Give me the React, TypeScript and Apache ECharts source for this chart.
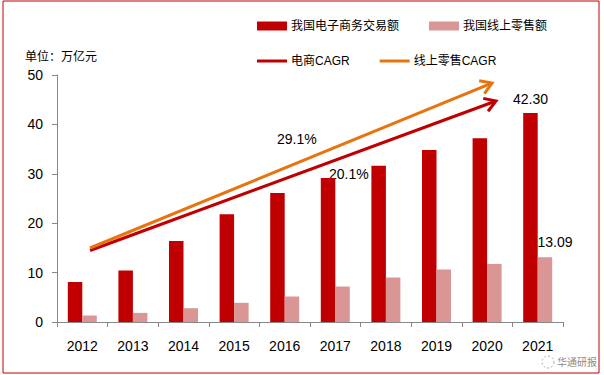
import React, { useEffect, useRef } from "react";
import * as echarts from "echarts";

const categories = ["2012", "2013", "2014", "2015", "2016", "2017", "2018", "2019", "2020", "2021"];
const ecommerce = [8.1, 10.4, 16.39, 21.79, 26.1, 29.16, 31.63, 34.81, 37.21, 42.3];
const onlineRetail = [1.31, 1.85, 2.79, 3.88, 5.16, 7.18, 9.01, 10.63, 11.76, 13.09];
const yTicks = { min: 0, max: 50, interval: 10 };
const cagrLabels = ["29.1%", "20.1%"];

const FONT = "'Liberation Sans', 'Noto Sans CJK SC', sans-serif";
const RED = "#C00000";
const PINK = "#D99694";
const ORANGE = "#E8740F";

function arrow(x1: number, y1: number, x2: number, y2: number, color: string) {
  const ang = Math.atan2(y2 - y1, x2 - x1);
  const len = 13;
  const spread = (32 * Math.PI) / 180;
  const p1 = [x2 - len * Math.cos(ang - spread), y2 - len * Math.sin(ang - spread)];
  const p2 = [x2 - len * Math.cos(ang + spread), y2 - len * Math.sin(ang + spread)];
  return [
    {
      type: "line",
      shape: { x1, y1, x2: x2 - 1.5 * Math.cos(ang), y2: y2 - 1.5 * Math.sin(ang) },
      style: { stroke: color, lineWidth: 3 },
    },
    {
      type: "polyline",
      shape: { points: [p1, [x2, y2], p2] },
      style: { stroke: color, lineWidth: 3, fill: null, lineJoin: "miter" },
    },
  ];
}

export default function App() {
  const ref = useRef<HTMLDivElement>(null);
  useEffect(() => {
    document.body.style.margin = "0";
    const chart = echarts.init(ref.current!, null, { renderer: "svg" });
    const last = categories.length - 1;
    chart.setOption({
      animation: false,
      backgroundColor: "#fff",
      textStyle: { fontFamily: FONT },
      grid: { left: 57, right: 41, top: 75, bottom: 53, containLabel: false },
      legend: [
        {
          data: ["我国电子商务交易额", "我国线上零售额"],
          left: 252,
          top: 15,
          itemWidth: 30,
          itemHeight: 9,
          itemGap: 30,
          icon: "rect",
          textStyle: { fontSize: 12, color: "#000", width: 108, padding: [0, 0, 0, -1] },
        },
        {
          data: ["电商CAGR", "线上零售CAGR"],
          left: 252,
          top: 50,
          itemWidth: 30,
          itemHeight: 3,
          itemGap: 30,
          icon: "rect",
          textStyle: { fontSize: 12, color: "#000", width: 108, padding: [0, 0, 0, -1] },
        },
      ],
      xAxis: {
        type: "category",
        data: categories,
        axisLine: { lineStyle: { color: "#888", width: 1 } },
        axisTick: { show: true, length: 5, lineStyle: { color: "#888" } },
        axisLabel: { fontSize: 14, color: "#000", margin: 17 },
      },
      yAxis: {
        type: "value",
        min: yTicks.min,
        max: yTicks.max,
        interval: yTicks.interval,
        splitLine: { show: false },
        axisLine: { show: true, lineStyle: { color: "#888" } },
        axisTick: { show: true, length: 5, lineStyle: { color: "#888" } },
        axisLabel: { fontSize: 14, color: "#000", margin: 14 },
      },
      series: [
        {
          name: "我国电子商务交易额",
          type: "bar",
          barWidth: 14.5,
          barGap: "0%",
          itemStyle: { color: RED },
          data: ecommerce.map((v, i) =>
            i === last
              ? { value: v, label: { show: true, position: "top", distance: 7, fontSize: 14, color: "#000", formatter: (p: any) => p.value.toFixed(2) } }
              : v
          ),
        },
        {
          name: "我国线上零售额",
          type: "bar",
          barWidth: 14.5,
          itemStyle: { color: PINK },
          data: onlineRetail.map((v, i) =>
            i === last
              ? { value: v, label: { show: true, position: "top", distance: 8, offset: [10, 0], fontSize: 14, color: "#000", formatter: (p: any) => p.value.toFixed(2) } }
              : v
          ),
        },
        { name: "电商CAGR", type: "line", data: [], itemStyle: { color: RED }, lineStyle: { color: RED } },
        { name: "线上零售CAGR", type: "line", data: [], itemStyle: { color: ORANGE }, lineStyle: { color: ORANGE } },
      ],
      graphic: [
        {
          type: "rect",
          shape: { x: 3, y: 1, width: 596, height: 372 },
          style: { fill: null, stroke: RED, lineWidth: 1 },
          silent: true,
        },
        {
          type: "text",
          left: 25,
          top: 51,
          style: { text: "单位：万亿元", fontSize: 12, fill: "#000", fontFamily: FONT },
        },
        ...arrow(90, 250.5, 496, 101, RED),
        ...arrow(90, 248, 492, 83, ORANGE),
        {
          type: "text",
          x: 277,
          y: 132,
          style: { text: cagrLabels[0], fontSize: 14, fill: "#000", fontFamily: FONT },
        },
        {
          type: "text",
          x: 329,
          y: 167,
          style: { text: cagrLabels[1], fontSize: 14, fill: "#000", fontFamily: FONT },
        },
        {
          type: "circle",
          shape: { cx: 548, cy: 362, r: 6 },
          style: { fill: "rgba(255,255,255,0.6)", stroke: "#aaa", lineWidth: 1, lineDash: [2, 2] },
        },
        {
          type: "text",
          x: 557,
          y: 356,
          style: {
            text: "华通研报",
            fontSize: 10,
            fill: "#8a8a8a",
            fontFamily: "'Noto Sans CJK SC', sans-serif",
          },
        },
      ],
    });
    return () => chart.dispose();
  }, []);
  return <div ref={ref} style={{ width: 604, height: 375 }} />;
}
